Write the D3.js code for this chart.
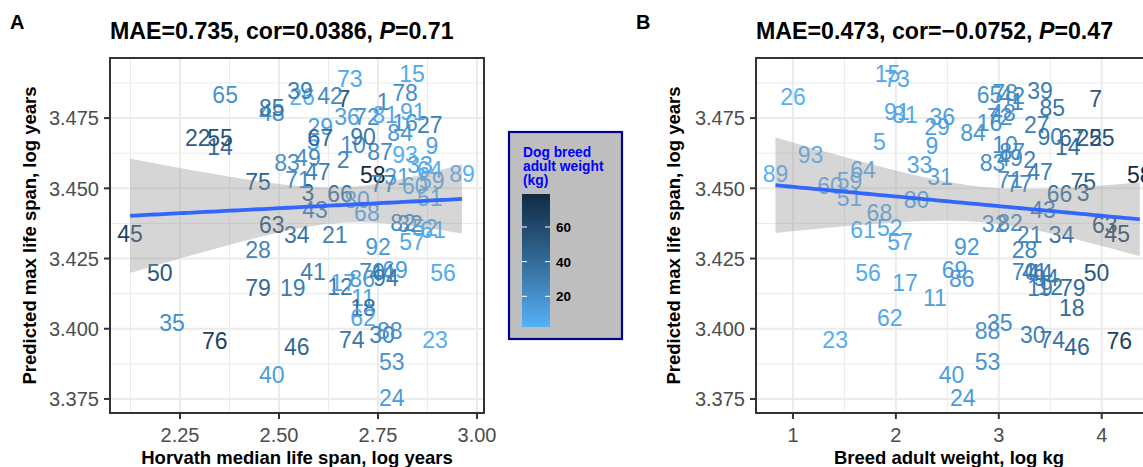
<!DOCTYPE html>
<html><head><meta charset="utf-8">
<script src="https://cdn.jsdelivr.net/npm/d3@7"></script>
<style>
body{margin:0;background:#fff;}
svg{display:block;font-family:"Liberation Sans",Arial,Helvetica,sans-serif;}
</style></head>
<body>
<svg id="chart" width="1143" height="467"></svg>
<script>
// ---- data ----
const ids = [1,2,3,5,7,9,10,11,12,14,15,16,17,18,19,21,22,23,24,26,27,28,29,30,31,32,33,34,35,36,39,40,41,42,43,44,45,46,47,48,49,50,51,52,53,55,56,57,58,59,60,61,62,63,64,65,66,67,68,69,70,71,72,73,74,75,76,77,78,79,80,81,82,83,84,85,86,87,88,89,90,91,92,93,94];
const horvath = [2.763,2.662,2.573,2.586,2.664,2.886,2.687,2.712,2.654,2.351,2.836,2.818,2.662,2.712,2.535,2.641,2.295,2.894,2.785,2.558,2.881,2.447,2.604,2.760,2.798,2.831,2.856,2.545,2.230,2.672,2.553,2.482,2.586,2.629,2.591,2.760,2.124,2.545,2.598,2.482,2.573,2.199,2.881,2.869,2.785,2.351,2.914,2.836,2.737,2.886,2.843,2.889,2.712,2.482,2.881,2.364,2.654,2.604,2.722,2.793,2.735,2.548,2.722,2.679,2.684,2.447,2.338,2.763,2.818,2.447,2.697,2.768,2.813,2.520,2.806,2.482,2.710,2.755,2.780,2.962,2.712,2.838,2.750,2.818,2.770];
const logWeight = [3.18,3.30,3.82,1.84,3.94,2.35,3.06,2.38,3.50,3.67,1.92,2.91,2.09,3.71,3.40,3.30,3.88,1.41,2.65,1.00,3.37,3.25,2.40,3.33,2.43,2.96,2.23,3.61,3.01,2.45,3.40,2.54,3.35,3.13,3.43,3.40,4.15,3.76,3.40,3.04,3.11,3.95,1.55,1.94,2.89,4.00,1.73,2.04,4.37,1.55,1.36,1.68,1.94,4.03,1.68,2.91,3.59,3.71,1.84,2.57,3.25,3.11,3.01,2.01,3.52,3.82,4.17,3.20,3.06,3.72,2.20,2.09,3.11,2.94,2.75,3.52,2.64,3.13,2.89,0.83,3.50,2.01,2.69,1.17,3.46];
const predicted = [3.4807,3.4601,3.4483,3.4665,3.4818,3.4650,3.4657,3.4109,3.4149,3.4647,3.4907,3.4732,3.4163,3.4074,3.4145,3.4334,3.4679,3.3960,3.3754,3.4825,3.4725,3.4280,3.4718,3.3978,3.4540,3.4373,3.4583,3.4334,3.4020,3.4754,3.4846,3.3835,3.4202,3.4828,3.4423,3.4198,3.4337,3.3935,3.4558,3.4768,3.4608,3.4198,3.4465,3.4359,3.3882,3.4679,3.4198,3.4309,3.4547,3.4526,3.4508,3.4351,3.4038,3.4369,3.4565,3.4832,3.4480,3.4679,3.4412,3.4209,3.4202,3.4529,3.4754,3.4892,3.3960,3.4522,3.3956,3.4515,3.4839,3.4145,3.4458,3.4761,3.4376,3.4590,3.4697,3.4786,3.4177,3.4629,3.3992,3.4551,3.4682,3.4771,3.4291,3.4618,3.4181];

const yTicks = [3.375, 3.400, 3.425, 3.450, 3.475];
const yMinor = [3.3875, 3.4125, 3.4375, 3.4625, 3.4875];
const leftXTicks = [2.25, 2.50, 2.75, 3.00];
const leftXMinor = [2.125, 2.375, 2.625, 2.875];
const rightXTicks = [1, 2, 3, 4];
const rightXMinor = [1.5, 2.5, 3.5, 4.5];
const legendTicks = [20, 40, 60];

const titleA = ["MAE=0.735, cor=0.0386, ", "P", "=0.71"];
const titleB = ["MAE=0.473, cor=\u22120.0752, ", "P", "=0.47"];
const yTitle = "Predicted max life span, log years";
const xTitleA = "Horvath median life span, log years";
const xTitleB = "Breed adult weight, log kg";
const legendTitle = ["Dog breed", "adult weight", "(kg)"];

// ---- setup ----
const svg = d3.select("#chart");
const FONT = '"Liberation Sans",Arial,Helvetica,sans-serif';
const rows = ids.map((id,i)=>({id, h:horvath[i], lw:logWeight[i], kg:Math.exp(logWeight[i]), p:predicted[i]}));
const kgExt = d3.extent(rows, d=>d.kg);
const color = d3.scaleLinear().domain(kgExt).range(["#56B1F7","#132B43"]).interpolate(d3.interpolateLab);

const y = d3.scaleLinear().domain([3.370, 3.4964]).range([413, 58]);
const panels = [
  {key:"A", x:d3.scaleLinear().domain([2.0732, 3.0177]).range([110, 484]), acc:d=>d.h,
   ticks:leftXTicks, minor:leftXMinor, fmt:d3.format(".2f"), title:titleA, xTitle:xTitleA, lab:[10,29], ytx:36},
  {key:"B", x:d3.scaleLinear().domain([0.641, 4.547]).range([756, 1158]), acc:d=>d.lw,
   ticks:rightXTicks, minor:rightXMinor, fmt:d3.format("d"), title:titleB, xTitle:xTitleB, lab:[636,29], ytx:680}
];

const defs = svg.append("defs");

panels.forEach((P,pi)=>{
  const [x0,x1] = P.x.range();
  const g = svg.append("g");
  defs.append("clipPath").attr("id","clip"+pi).append("rect")
    .attr("x",x0).attr("y",58).attr("width",x1-x0).attr("height",355);
  g.append("rect").attr("x",x0).attr("y",58).attr("width",x1-x0).attr("height",355).attr("fill","#fff");
  const grid = g.append("g").attr("clip-path",`url(#clip${pi})`);
  P.minor.forEach(v=>grid.append("line").attr("x1",P.x(v)).attr("x2",P.x(v)).attr("y1",58).attr("y2",413)
      .attr("stroke","#ebebeb").attr("stroke-width",1));
  yMinor.forEach(v=>grid.append("line").attr("x1",x0).attr("x2",x1).attr("y1",y(v)).attr("y2",y(v))
      .attr("stroke","#ebebeb").attr("stroke-width",1));
  P.ticks.forEach(v=>grid.append("line").attr("x1",P.x(v)).attr("x2",P.x(v)).attr("y1",58).attr("y2",413)
      .attr("stroke","#ebebeb").attr("stroke-width",2));
  yTicks.forEach(v=>grid.append("line").attr("x1",x0).attr("x2",x1).attr("y1",y(v)).attr("y2",y(v))
      .attr("stroke","#ebebeb").attr("stroke-width",2));

  // labels
  const lab = g.append("g").attr("clip-path",`url(#clip${pi})`);
  lab.selectAll("text").data(rows).join("text")
    .attr("x",d=>P.x(P.acc(d))).attr("y",d=>y(d.p)).attr("dy","0.36em")
    .attr("text-anchor","middle").attr("font-family",FONT).attr("font-size",23)
    .attr("fill",d=>color(d.kg)).text(d=>d.id);

  // linear fit with 95% CI
  const xs = rows.map(P.acc), ys = rows.map(d=>d.p);
  const n = xs.length, xb = d3.mean(xs), yb = d3.mean(ys);
  const sxx = d3.sum(xs, v=>(v-xb)**2);
  const sxy = d3.sum(xs.map((v,i)=>(v-xb)*(ys[i]-yb)));
  const b = sxy/sxx, a = yb - b*xb;
  const s = Math.sqrt(d3.sum(xs.map((v,i)=>(ys[i]-a-b*v)**2))/(n-2));
  const tq = 1.989;
  const [xmin,xmax] = d3.extent(xs);
  const grid80 = d3.range(81).map(i=>xmin + (xmax-xmin)*i/80);
  const fit = grid80.map(v=>{
    const f = a+b*v, se = s*Math.sqrt(1/n + (v-xb)**2/sxx);
    return {v, f, lo:f-tq*se, hi:f+tq*se};
  });
  const sm = g.append("g").attr("clip-path",`url(#clip${pi})`);
  sm.append("path").datum(fit)
    .attr("d", d3.area().x(d=>P.x(d.v)).y0(d=>y(d.lo)).y1(d=>y(d.hi)))
    .attr("fill","#999999").attr("fill-opacity",0.4);
  sm.append("path").datum(fit)
    .attr("d", d3.line().x(d=>P.x(d.v)).y(d=>y(d.f)))
    .attr("fill","none").attr("stroke","#3366FF").attr("stroke-width",3.8);

  g.append("rect").attr("x",x0).attr("y",58).attr("width",x1-x0).attr("height",355)
    .attr("fill","none").attr("stroke","#333333").attr("stroke-width",2);

  P.ticks.forEach(v=>{
    g.append("line").attr("x1",P.x(v)).attr("x2",P.x(v)).attr("y1",413).attr("y2",419)
      .attr("stroke","#333333").attr("stroke-width",2);
    g.append("text").attr("x",P.x(v)).attr("y",442).attr("text-anchor","middle")
      .attr("font-family",FONT).attr("font-size",20).attr("fill","#4d4d4d").text(P.fmt(v));
  });
  yTicks.forEach(v=>{
    g.append("line").attr("x1",x0-6).attr("x2",x0).attr("y1",y(v)).attr("y2",y(v))
      .attr("stroke","#333333").attr("stroke-width",2);
    g.append("text").attr("x",x0-11).attr("y",y(v)).attr("dy","0.36em").attr("text-anchor","end")
      .attr("font-family",FONT).attr("font-size",20).attr("fill","#4d4d4d").text(d3.format(".3f")(v));
  });

  g.append("text").attr("x",(x0+Math.min(x1,1150))/2 - (pi?4:0)).attr("y",464).attr("text-anchor","middle")
    .attr("font-family",FONT).attr("font-size",18.5).attr("font-weight","bold").attr("fill","#000").text(P.xTitle);
  g.append("text").attr("transform",`translate(${P.ytx},${(58+413)/2}) rotate(-90)`)
    .attr("text-anchor","middle").attr("font-family",FONT).attr("font-size",18.5)
    .attr("font-weight","bold").attr("fill","#000").text(yTitle);

  const t = g.append("text").attr("x",x0).attr("y",39).attr("font-family",FONT)
    .attr("font-size",23.2).attr("font-weight","bold").attr("fill","#000");
  t.append("tspan").text(P.title[0]);
  t.append("tspan").attr("font-style","italic").text(P.title[1]);
  t.append("tspan").text(P.title[2]);

  g.append("text").attr("x",P.lab[0]).attr("y",P.lab[1]).attr("font-family",FONT)
    .attr("font-size",20).attr("font-weight","bold").attr("fill","#000").text(P.key);
});

// ---- legend ----
const lg = svg.append("g");
lg.append("rect").attr("x",509).attr("y",132).attr("width",113).attr("height",207)
  .attr("fill","#bebebe").attr("stroke","#00008b").attr("stroke-width",2.2);
legendTitle.forEach((s,i)=>lg.append("text").attr("x",523).attr("y",157+i*14)
  .attr("font-family",FONT).attr("font-size",13.8).attr("font-weight","bold").attr("fill","#0000ff").text(s));
const cb = d3.scaleLinear().domain(kgExt).range([327,194]);
const grad = defs.append("linearGradient").attr("id","cbar").attr("x1",0).attr("x2",0).attr("y1",1).attr("y2",0);
d3.range(11).forEach(i=>{
  const v = kgExt[0] + (kgExt[1]-kgExt[0])*i/10;
  grad.append("stop").attr("offset",(i*10)+"%").attr("stop-color",color(v));
});
lg.append("rect").attr("x",522).attr("y",194).attr("width",28).attr("height",133).attr("fill","url(#cbar)");
legendTicks.forEach(v=>{
  lg.append("line").attr("x1",522).attr("x2",527).attr("y1",cb(v)).attr("y2",cb(v)).attr("stroke","#fff").attr("stroke-width",1);
  lg.append("line").attr("x1",545).attr("x2",550).attr("y1",cb(v)).attr("y2",cb(v)).attr("stroke","#fff").attr("stroke-width",1);
  lg.append("text").attr("x",556).attr("y",cb(v)).attr("dy","0.36em").attr("font-family",FONT)
    .attr("font-size",13.5).attr("font-weight","bold").attr("fill","#000").text(v);
});
</script>
</body></html>
